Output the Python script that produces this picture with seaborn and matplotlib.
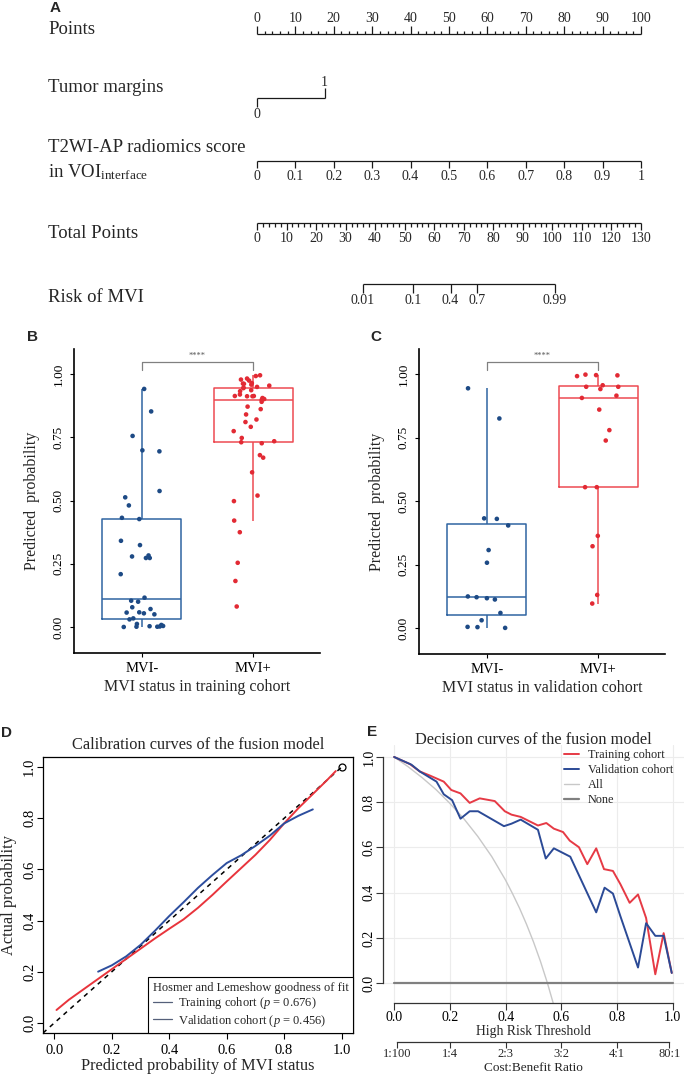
import numpy as np
import pandas as pd
import matplotlib
matplotlib.use("Agg")
import matplotlib.pyplot as plt
import seaborn as sns
from matplotlib.lines import Line2D

sns.set_theme(style="white")
plt.rcParams["font.family"] = ["Liberation Serif", "DejaVu Serif"]
plt.rcParams["mathtext.fontset"] = "custom"
plt.rcParams["mathtext.rm"] = "Liberation Serif"
plt.rcParams["mathtext.it"] = "Liberation Serif:italic"
plt.rcParams["axes.unicode_minus"] = False

# ---------------- data ----------------
# Nomogram (A)
points_ticks = [0, 10, 20, 30, 40, 50, 60, 70, 80, 90, 100]
margin_levels = ["0", "1"]
margin_points = [0.0, 17.6]
score_ticks = [0, 0.1, 0.2, 0.3, 0.4, 0.5, 0.6, 0.7, 0.8, 0.9, 1]
score_labels = ["0", "0.1", "0.2", "0.3", "0.4", "0.5", "0.6", "0.7", "0.8", "0.9", "1"]
total_ticks = [0, 10, 20, 30, 40, 50, 60, 70, 80, 90, 100, 110, 120, 130]
risk_ticks = [0.01, 0.1, 0.4, 0.7, 0.99]
risk_labels = ["0.01", "0.1", "0.4", "0.7", "0.99"]
risk_intercept = -9.67
risk_slope = 0.1414

# Box plots (B, C)
status_order = ["MVI-", "MVI+"]
train_neg = [0.942, 0.853, 0.756, 0.699, 0.695, 0.538, 0.513, 0.481, 0.432, 0.427,
             0.341, 0.324, 0.283, 0.279, 0.273, 0.273, 0.209, 0.116, 0.104, 0.100,
             0.078, 0.071, 0.058, 0.057, 0.054, 0.050, 0.034, 0.030, 0.012, 0.008,
             0.004, 0.003, 0.002, 0.001, 0.001, 0.000]
train_pos = [0.996, 0.993, 0.983, 0.979, 0.975, 0.965, 0.963, 0.962, 0.959, 0.955,
             0.950, 0.947, 0.945, 0.937, 0.933, 0.920, 0.914, 0.914, 0.913, 0.913,
             0.906, 0.902, 0.899, 0.891, 0.872, 0.862, 0.841, 0.821, 0.811, 0.792,
             0.775, 0.748, 0.735, 0.731, 0.727, 0.680, 0.670, 0.612, 0.520, 0.498,
             0.421, 0.375, 0.254, 0.182, 0.081]
valid_neg = [0.945, 0.826, 0.432, 0.430, 0.404, 0.307, 0.257, 0.124, 0.121, 0.117,
             0.112, 0.059, 0.030, 0.004, 0.003, 0.000]
valid_pos = [0.999, 0.997, 0.996, 0.993, 0.957, 0.951, 0.951, 0.942, 0.916, 0.907,
             0.861, 0.780, 0.739, 0.555, 0.555, 0.363, 0.322, 0.130, 0.096]
prob_ticks = [0.0, 0.25, 0.5, 0.75, 1.0]
prob_labels = ["0.00", "0.25", "0.50", "0.75", "1.00"]

# Calibration (D)
cal_train_x = [0.007, 0.05, 0.1, 0.15, 0.2, 0.25, 0.3, 0.35, 0.4, 0.45, 0.5,
               0.55, 0.6, 0.65, 0.7, 0.75, 0.8, 0.85, 0.9, 0.95, 0.98]
cal_train_y = [0.05, 0.09, 0.13, 0.17, 0.21, 0.25, 0.29, 0.33, 0.368, 0.405, 0.45,
               0.50, 0.553, 0.605, 0.657, 0.715, 0.78, 0.84, 0.895, 0.95, 0.985]
cal_valid_x = [0.152, 0.2, 0.25, 0.3, 0.35, 0.4, 0.45, 0.5, 0.55, 0.6, 0.65,
               0.7, 0.75, 0.8, 0.85, 0.9]
cal_valid_y = [0.20, 0.225, 0.26, 0.305, 0.36, 0.418, 0.472, 0.528, 0.578, 0.625,
               0.655, 0.692, 0.732, 0.78, 0.81, 0.835]
ideal_x = [-0.04, 1.0]
ideal_y = [-0.04, 1.0]
unit_ticks = [0.0, 0.2, 0.4, 0.6, 0.8, 1.0]
unit_labels = ["0.0", "0.2", "0.4", "0.6", "0.8", "1.0"]

# Decision curves (E)
dca_train_x = [0.0, 0.056, 0.092, 0.128, 0.178, 0.205, 0.238, 0.271, 0.307, 0.361,
               0.397, 0.421, 0.454, 0.516, 0.546, 0.573, 0.606, 0.630, 0.663, 0.693,
               0.725, 0.753, 0.785, 0.812, 0.845, 0.875, 0.904, 0.937, 0.967, 0.996]
dca_train_y = [1.0, 0.969, 0.936, 0.918, 0.891, 0.854, 0.839, 0.797, 0.817, 0.805,
               0.760, 0.745, 0.735, 0.697, 0.708, 0.683, 0.668, 0.630, 0.601, 0.526,
               0.596, 0.504, 0.496, 0.437, 0.355, 0.392, 0.288, 0.039, 0.221, 0.045]
dca_valid_x = [0.0, 0.062, 0.092, 0.152, 0.178, 0.208, 0.238, 0.271, 0.301, 0.394,
               0.421, 0.454, 0.516, 0.544, 0.573, 0.632, 0.725, 0.755, 0.785, 0.812,
               0.875, 0.904, 0.937, 0.967, 0.996]
dca_valid_y = [1.0, 0.966, 0.936, 0.891, 0.835, 0.809, 0.727, 0.760, 0.760, 0.694,
               0.705, 0.723, 0.678, 0.551, 0.596, 0.559, 0.313, 0.422, 0.396, 0.295,
               0.069, 0.265, 0.209, 0.209, 0.045]
dca_all_x = [0.0, 0.05, 0.1, 0.15, 0.2, 0.25, 0.3, 0.35, 0.4, 0.425, 0.45, 0.475,
             0.5, 0.525, 0.55, 0.575]
dca_all_y = [1.0, 0.957, 0.909, 0.856, 0.795, 0.727, 0.649, 0.560, 0.455, 0.395,
             0.331, 0.260, 0.182, 0.096, 0.0, -0.107]
dca_none_x = [0.0, 1.0]
dca_none_y = [0.0, 0.0]
cb_ticks = [1 / 101, 0.2, 0.4, 0.6, 0.8, 80 / 81]
cb_labels = ["1:100", "1:4", "2:3", "3:2", "4:1", "80:1"]

# ---------------- figure ----------------
W, H = 685, 1074
fig = plt.figure(figsize=(W / 100, H / 100), dpi=100)


def frect(l, t, r, b):
    return [l / W, 1 - b / H, (r - l) / W, (b - t) / H]


def letter(x, y, s):
    fig.text(x / W, 1 - y / H, s, ha="center", va="center", fontsize=11,
             fontweight="bold", family="Liberation Sans")


# ---------- A: nomogram ----------
axA = fig.add_axes([0, 1 - 312 / H, 1, 312 / H])
PX = 3.84
X0 = 257
axA.set_xlim(-X0 / PX, (W - X0) / PX)
axA.set_ylim(312, 0)
axA.axis("off")
lw = 0.9
lab_x = (48 - X0) / PX
row_fs = 13.5
tick_fs = 10

# Points
yl = 34
axA.hlines(yl, points_ticks[0], points_ticks[-1], color="k", lw=lw)
mp = np.arange(points_ticks[0], points_ticks[-1] + 1, 2)
axA.vlines(mp, yl, [yl - 8 if v % 10 == 0 else yl - 3.5 for v in mp], color="k", lw=lw)
for v in points_ticks:
    axA.text(v, 19, str(v), fontsize=tick_fs, ha="center", va="center")
axA.text(lab_x, 30, "Points", fontsize=row_fs, ha="left", va="center")

# Tumor margins
yl = 98
axA.hlines(yl, margin_points[0], margin_points[1], color="k", lw=lw)
axA.vlines(margin_points[0], yl, yl + 9, color="k", lw=lw)
axA.vlines(margin_points[1], yl, yl - 10, color="k", lw=lw)
axA.text(margin_points[0], 115, margin_levels[0], fontsize=tick_fs, ha="center", va="center")
axA.text(margin_points[1], 82, margin_levels[1], fontsize=tick_fs, ha="center", va="center")
axA.text(lab_x, 88, "Tumor margins", fontsize=row_fs, ha="left", va="center")

# Radiomics score
yl = 161
sp = [100 * s for s in score_ticks]
axA.hlines(yl, sp[0], sp[-1], color="k", lw=lw)
axA.vlines(sp, yl, yl + 7, color="k", lw=lw)
for p, s in zip(sp, score_labels):
    axA.text(p, 176, s, fontsize=tick_fs, ha="center", va="center")
axA.text(lab_x, 148, "T2WI-AP radiomics score", fontsize=row_fs, ha="left", va="center")
axA.text(lab_x, 172, r"in VOI$_{\mathrm{interface}}$", fontsize=row_fs, ha="left", va="center")

# Total points
yl = 223
tscale = 100 / 130
axA.hlines(yl, total_ticks[0] * tscale, total_ticks[-1] * tscale, color="k", lw=lw)
mt = np.arange(total_ticks[0], total_ticks[-1] + 1, 2)
axA.vlines(mt * tscale, yl, [yl + 7 if v % 10 == 0 else yl + 3.5 for v in mt], color="k", lw=lw)
for v in total_ticks:
    axA.text(v * tscale, 238, str(v), fontsize=tick_fs, ha="center", va="center")
axA.text(lab_x, 233, "Total Points", fontsize=row_fs, ha="left", va="center")

# Risk
yl = 284
rp = [((np.log(p / (1 - p)) - risk_intercept) / risk_slope) * tscale for p in risk_ticks]
axA.hlines(yl, rp[0], rp[-1], color="k", lw=lw)
axA.vlines(rp, yl, yl + 9, color="k", lw=lw)
for p, s in zip(rp, risk_labels):
    axA.text(p, 301, s, fontsize=tick_fs, ha="center", va="center")
axA.text(lab_x, 297, "Risk of MVI", fontsize=row_fs, ha="left", va="center")

letter(55, 8, "A")

# ---------- B, C: box plots ----------
box_pal = {"MVI-": "#2F64A2", "MVI+": "#EE4A52"}
pt_pal = {"MVI-": "#1D4A85", "MVI+": "#E22A34"}


def box_panel(rect, neg, pos, xlabel, seed):
    ax = fig.add_axes(rect)
    df = pd.DataFrame({"status": ["MVI-"] * len(neg) + ["MVI+"] * len(pos),
                       "prob": neg + pos})
    sns.boxplot(data=df, x="status", y="prob", hue="status", order=status_order,
                hue_order=status_order, palette=box_pal, fill=False, width=0.71,
                linewidth=1.1, showfliers=False, showcaps=False, whis=1.55,
                legend=False, ax=ax)
    np.random.seed(seed)
    sns.stripplot(data=df, x="status", y="prob", hue="status", order=status_order,
                  hue_order=status_order, palette=pt_pal, jitter=0.2, size=3.3,
                  linewidth=0, legend=False, ax=ax, zorder=3)
    ax.set_xlim(-0.61, 1.6)
    ax.set_ylim(-0.103, 1.1)
    for s in ["top", "right"]:
        ax.spines[s].set_visible(False)
    for s in ["left", "bottom"]:
        ax.spines[s].set_color("black")
        ax.spines[s].set_linewidth(1.2)
    ax.set_yticks(prob_ticks)
    ax.set_yticklabels(prob_labels, rotation=90, va="center", fontsize=9.5)
    ax.set_xticks([0, 1])
    ax.set_xticklabels(status_order, fontsize=10.5)
    ax.tick_params(axis="both", left=True, bottom=True, direction="out", length=3,
                   width=0.8, color="black", labelcolor="black")
    ax.set_xlabel("")
    ax.set_ylabel("")
    hgt = rect[3] * H
    wid = rect[2] * W
    ax.text(-42 / wid, 0.5, "Predicted  probability", rotation=90, ha="center",
            va="center", fontsize=11.5, transform=ax.transAxes)
    ax.text(0.5, -34 / hgt, xlabel, ha="center", va="center", fontsize=11.5,
            transform=ax.transAxes)
    # significance bracket
    ax.plot([0, 0, 1, 1], [1.018, 1.047, 1.047, 1.018], color="#808080", lw=0.9)
    ax.text(0.5, 1.072, "****", ha="center", va="center", fontsize=6, color="#555555")
    return ax


box_panel(frect(74, 349, 320, 653), train_neg, train_pos,
          "MVI status in training cohort", 3)
box_panel(frect(419, 349, 665, 654), valid_neg, valid_pos,
          "MVI status in validation cohort", 7)
letter(33, 337, "B")
letter(376, 337, "C")

# ---------- D: calibration ----------
red = "#E8343C"
blue = "#2D4E9E"
axD = fig.add_axes(frect(43, 757, 353, 1033))
axD.plot(ideal_x, ideal_y, color="black", lw=1.1, ls=(0, (3, 3)))
axD.plot([ideal_x[-1]], [ideal_y[-1]], marker="o", mfc="none", mec="black", ms=5, mew=0.9)
axD.plot(cal_train_x, cal_train_y, color=red, lw=1.4)
axD.plot(cal_valid_x, cal_valid_y, color=blue, lw=1.4)
axD.set_xlim(-0.04, 1.04)
axD.set_ylim(-0.04, 1.04)
for s in axD.spines.values():
    s.set_color("black")
    s.set_linewidth(0.9)
axD.set_xticks(unit_ticks)
axD.set_xticklabels(unit_labels, fontsize=10.5)
axD.set_yticks(unit_ticks)
axD.set_yticklabels(unit_labels, rotation=90, va="center", fontsize=10.5)
axD.tick_params(axis="both", left=True, bottom=True, direction="out", length=4,
                width=0.8, color="black", labelcolor="black")
axD.tick_params(axis="x", pad=4)
axD.tick_params(axis="y", pad=1)
axD.text(0.5, 1 + 12 / 276, "Calibration curves of the fusion model", ha="center",
         va="center", fontsize=11.8, transform=axD.transAxes)
axD.text(0.5, -33 / 276, "Predicted probability of MVI status", ha="center",
         va="center", fontsize=11.8, transform=axD.transAxes)
axD.text(-34 / 310, 0.5, "Actual probability", rotation=90, ha="center",
         va="center", fontsize=11.8, transform=axD.transAxes)
leg_c = "#55607A"
hd = [Line2D([], [], color=leg_c, lw=0.9), Line2D([], [], color=leg_c, lw=0.9)]
legD = axD.legend(hd, [r"Training cohort ($p$ = 0.676)", r"Validation cohort ($p$ = 0.456)"],
                  title="Hosmer and Lemeshow goodness of fit", loc="lower right",
                  bbox_to_anchor=(1, 0), borderaxespad=0, frameon=True, fancybox=False,
                  edgecolor="black", framealpha=1, fontsize=9, title_fontsize=9,
                  alignment="left", handlelength=1.5, handletextpad=0.5,
                  labelspacing=0.12, borderpad=0.35)
legD.get_frame().set_linewidth(0.8)
letter(7, 733, "D")

# ---------- E: decision curves ----------
axE = fig.add_axes(frect(383, 745, 684, 1003))
axE.set_xlim(-0.04, 1.04)
axE.set_ylim(-0.088, 1.053)
axE.set_xticks(unit_ticks)
axE.set_xticklabels(unit_labels, fontsize=10)
axE.set_yticks(unit_ticks)
axE.set_yticklabels(unit_labels, rotation=90, va="center", fontsize=10)
axE.grid(True, color="#ececec", lw=0.8)
axE.set_axisbelow(True)
lA, = axE.plot(dca_all_x, dca_all_y, color="#c8c8c8", lw=1.0)
lN, = axE.plot(dca_none_x, dca_none_y, color="#808080", lw=1.6)
lT, = axE.plot(dca_train_x, dca_train_y, color="#E63A45", lw=1.4)
lV, = axE.plot(dca_valid_x, dca_valid_y, color="#2B4A96", lw=1.4)
for s in ["top", "right"]:
    axE.spines[s].set_visible(False)
for s in ["left", "bottom"]:
    axE.spines[s].set_color("#333333")
    axE.spines[s].set_linewidth(0.9)
    axE.spines[s].set_bounds(0, 1)
axE.tick_params(axis="both", left=True, bottom=True, direction="out", length=5,
                width=0.8, color="#333333", labelcolor="black")
axE.tick_params(axis="x", pad=1)
axE.tick_params(axis="y", pad=0.5)
sec = axE.secondary_xaxis(-39 / 258)
sec.set_xticks(cb_ticks)
sec.set_xticklabels(cb_labels, fontsize=9)
sec.spines["bottom"].set_bounds(cb_ticks[0], cb_ticks[-1])
sec.spines["bottom"].set_color("#333333")
sec.spines["bottom"].set_linewidth(0.9)
sec.tick_params(axis="x", bottom=True, direction="out", length=4, width=0.8,
                color="#333333", pad=0.5)
axE.text(0.5, -28 / 258, "High Risk Threshold", ha="center", va="center",
         fontsize=9.8, transform=axE.transAxes)
axE.text(0.5, -65 / 258, "Cost:Benefit Ratio", ha="center", va="center",
         fontsize=9.5, transform=axE.transAxes)
axE.text(0.5, 1 + 5 / 258, "Decision curves of the fusion model", ha="center",
         va="center", fontsize=11.8, transform=axE.transAxes)
axE.legend([lT, lV, lA, lN], ["Training cohort", "Validation cohort", "All", "None"],
           loc="upper left", bbox_to_anchor=(0.6, 0.985), frameon=False,
           fontsize=8.8, handlelength=1.3, handletextpad=0.7, labelspacing=0.25,
           borderaxespad=0, borderpad=0)
letter(372, 732, "E")

fig.savefig("out.png", dpi=100)
